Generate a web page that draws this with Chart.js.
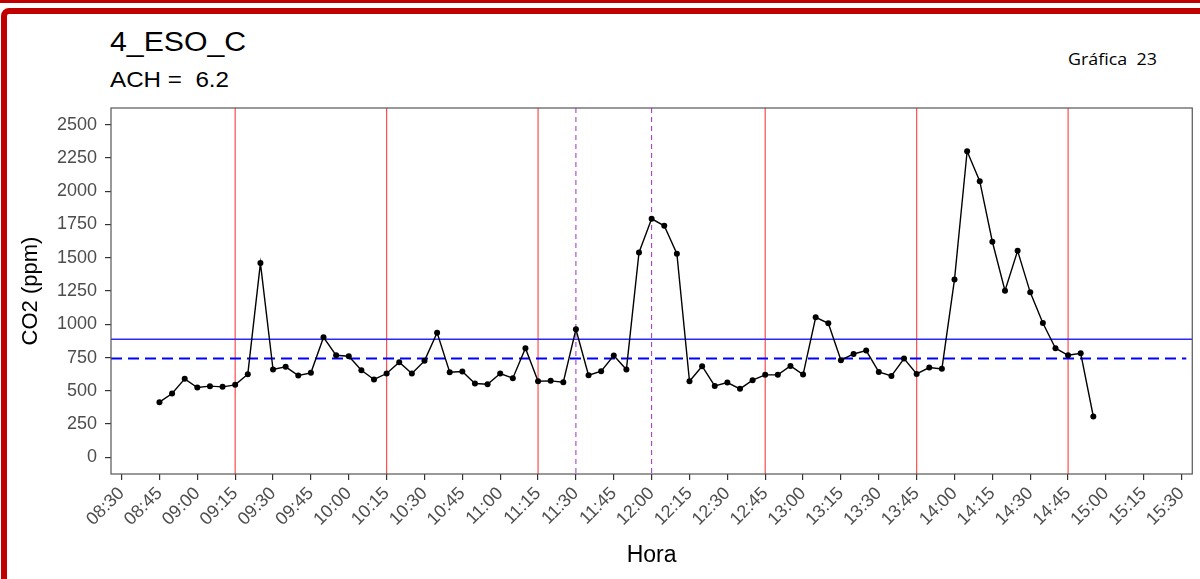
<!DOCTYPE html>
<html>
<head>
<meta charset="utf-8">
<script src="https://cdn.jsdelivr.net/npm/chart.js@4/dist/chart.umd.min.js"></script>
<style>
  html, body { margin: 0; padding: 0; background: #fff; }
  #wrap { position: relative; width: 1200px; height: 579px; overflow: hidden; background: #fff; }
  .stripe { position: absolute; left: 0; top: 0; width: 1200px; height: 3px; background: #c00000; }
  .frame { position: absolute; left: 1px; top: 8px; width: 1300px; height: 700px; border: 6px solid #c00000; border-radius: 8px; }
  .txt { position: absolute; white-space: pre; transform-origin: left top; color: #000; }
  #title { left: 110px; top: 27px; font: 27px "Liberation Sans", Arial, sans-serif; transform: scaleX(1.12); }
  #sub { left: 110px; top: 67px; font: 22px "Liberation Sans", Arial, sans-serif; transform: scaleX(1.1); }
  #grafica { left: 1068px; top: 47px; font: 17px "Open Sans", "Noto Sans", sans-serif; transform: scaleX(1.05); }
  canvas { position: absolute; left: 0; top: 0; }
</style>
</head>
<body>
<div id="wrap">
  <div class="stripe"></div>
  <div class="frame"></div>
  <div class="txt" id="title">4_ESO_C</div>
  <div class="txt" id="sub">ACH =  6.2</div>
  <div class="txt" id="grafica">Gráfica  23</div>
  <canvas id="chart" width="1200" height="579"></canvas>
</div>
<script>
// ----------------------
// Data
// ----------------------
const times = [
  "08:45", "08:50", "08:55", "09:00", "09:05", "09:10", "09:15", "09:20", "09:25", "09:30",
  "09:35", "09:40", "09:45", "09:50", "09:55", "10:00", "10:05", "10:10", "10:15", "10:20",
  "10:25", "10:30", "10:35", "10:40", "10:45", "10:50", "10:55", "11:00", "11:05", "11:10",
  "11:15", "11:20", "11:25", "11:30", "11:35", "11:40", "11:45", "11:50", "11:55", "12:00",
  "12:05", "12:10", "12:15", "12:20", "12:25", "12:30", "12:35", "12:40", "12:45", "12:50",
  "12:55", "13:00", "13:05", "13:10", "13:15", "13:20", "13:25", "13:30", "13:35", "13:40",
  "13:45", "13:50", "13:55", "14:00", "14:05", "14:10", "14:15", "14:20", "14:25", "14:30",
  "14:35", "14:40", "14:45", "14:50", "14:55"
];
const co2 = [
  415, 480, 590, 525, 535, 530, 545, 625, 1460, 660,
  680, 615, 635, 902, 767, 760, 655, 585, 630, 715,
  630, 725, 937, 640, 645, 555, 550, 630, 595, 820,
  572, 575, 565, 962, 617, 647, 765, 660, 1540, 1792,
  1740, 1530, 572, 685, 537, 562, 515, 580, 620, 620,
  687, 622, 1052, 1007, 730, 777, 802, 642, 612, 742,
  627, 675, 665, 1337, 2300, 2075, 1620, 1252, 1552, 1240,
  1010, 820, 767, 782, 307
];

const xTickLabels = [
  "08:30", "08:45", "09:00", "09:15", "09:30", "09:45", "10:00", "10:15", "10:30", "10:45",
  "11:00", "11:15", "11:30", "11:45", "12:00", "12:15", "12:30", "12:45", "13:00", "13:15",
  "13:30", "13:45", "14:00", "14:15", "14:30", "14:45", "15:00", "15:15", "15:30"
];
const yTicks = [0, 250, 500, 750, 1000, 1250, 1500, 1750, 2000, 2250, 2500];

// reference lines
const redLines = ["09:15", "10:15", "11:15", "12:45", "13:45", "14:45"];
const purpleLines = ["11:30", "12:00"];
const solidLimit = 887;
const dashedLimit = 742;

// ----------------------
// Helpers
// ----------------------
function toMin(t) {
  const [h, m] = t.split(":").map(Number);
  return h * 60 + m;
}
function fmt(v) {
  const h = Math.floor(v / 60), m = Math.round(v % 60);
  return String(h).padStart(2, "0") + ":" + String(m).padStart(2, "0");
}

const points = times.map((t, i) => ({ x: toMin(t), y: co2[i] }));
const font = "Liberation Sans, Arial, sans-serif";

// ----------------------
// Plugins
// ----------------------
const refLines = {
  id: "refLines",
  beforeDatasetsDraw(chart) {
    const { ctx, chartArea: a, scales: { x, y } } = chart;
    ctx.save();
    ctx.beginPath();
    ctx.rect(a.left, a.top, a.right - a.left, a.bottom - a.top);
    ctx.clip();

    ctx.lineWidth = 1.2;
    ctx.strokeStyle = "#ff4d4d";
    redLines.forEach(t => {
      const px = x.getPixelForValue(toMin(t));
      ctx.beginPath(); ctx.moveTo(px, a.top); ctx.lineTo(px, a.bottom); ctx.stroke();
    });

    ctx.lineWidth = 1;
    ctx.strokeStyle = "#a02cc8";
    ctx.setLineDash([5, 4]);
    purpleLines.forEach(t => {
      const px = x.getPixelForValue(toMin(t));
      ctx.beginPath(); ctx.moveTo(px, a.top); ctx.lineTo(px, a.bottom); ctx.stroke();
    });

    ctx.setLineDash([]);
    ctx.strokeStyle = "#2a2aff";
    ctx.lineWidth = 1.4;
    let py = y.getPixelForValue(solidLimit);
    ctx.beginPath(); ctx.moveTo(a.left, py); ctx.lineTo(a.right, py); ctx.stroke();

    ctx.strokeStyle = "#0000ff";
    ctx.lineWidth = 2;
    ctx.setLineDash([11, 6]);
    py = y.getPixelForValue(dashedLimit);
    ctx.beginPath(); ctx.moveTo(a.left, py); ctx.lineTo(a.right - 6, py); ctx.stroke();
    ctx.restore();
  }
};

const panelBorder = {
  id: "panelBorder",
  afterDraw(chart) {
    const { ctx, chartArea: a } = chart;
    ctx.save();
    ctx.strokeStyle = "#555";
    ctx.lineWidth = 1.2;
    ctx.strokeRect(a.left, a.top, a.right - a.left, a.bottom - a.top);
    ctx.restore();
  }
};

// ----------------------
// Chart
// ----------------------
new Chart(document.getElementById("chart"), {
  type: "line",
  data: {
    datasets: [{
      data: points,
      borderColor: "#000",
      borderWidth: 1.4,
      backgroundColor: "#000",
      pointRadius: 3,
      pointBorderWidth: 0,
      tension: 0,
      fill: false
    }]
  },
  options: {
    responsive: false,
    animation: false,
    events: [],
    layout: { padding: { top: 108, right: 6, left: 0, bottom: 0 } },
    plugins: { legend: { display: false }, tooltip: { enabled: false } },
    scales: {
      x: {
        type: "linear",
        min: toMin("08:30") - 4.2,
        max: toMin("15:30") + 4.2,
        afterBuildTicks: s => { s.ticks = xTickLabels.map(t => ({ value: toMin(t) })); },
        afterFit: s => { s.height = 579 - 474; },
        grid: { display: true, drawOnChartArea: false, color: "#333", lineWidth: 1.2, tickLength: 6 },
        border: { display: false },
        ticks: {
          autoSkip: false, minRotation: 45, maxRotation: 45, padding: 3,
          color: "#4d4d4d", font: { family: font, size: 18 },
          callback: v => fmt(v)
        },
        title: {
          display: true, text: "Hora", color: "#000",
          font: { family: font, size: 23 },
          padding: { top: 0, bottom: 10 }
        }
      },
      y: {
        min: -125,
        max: 2625,
        afterBuildTicks: s => { s.ticks = yTicks.map(v => ({ value: v })); },
        afterFit: s => { s.width = 111; },
        grid: { display: true, drawOnChartArea: false, color: "#333", lineWidth: 1.2, tickLength: 6 },
        border: { display: false },
        ticks: {
          padding: 8, color: "#4d4d4d",
          font: { family: font, size: 18 },
          callback: v => String(v)
        },
        title: {
          display: true, text: "CO2 (ppm)", color: "#000",
          font: { family: font, size: 22 },
          padding: { top: 18, bottom: 0 }
        }
      }
    }
  },
  plugins: [refLines, panelBorder]
});
</script>
</body>
</html>
